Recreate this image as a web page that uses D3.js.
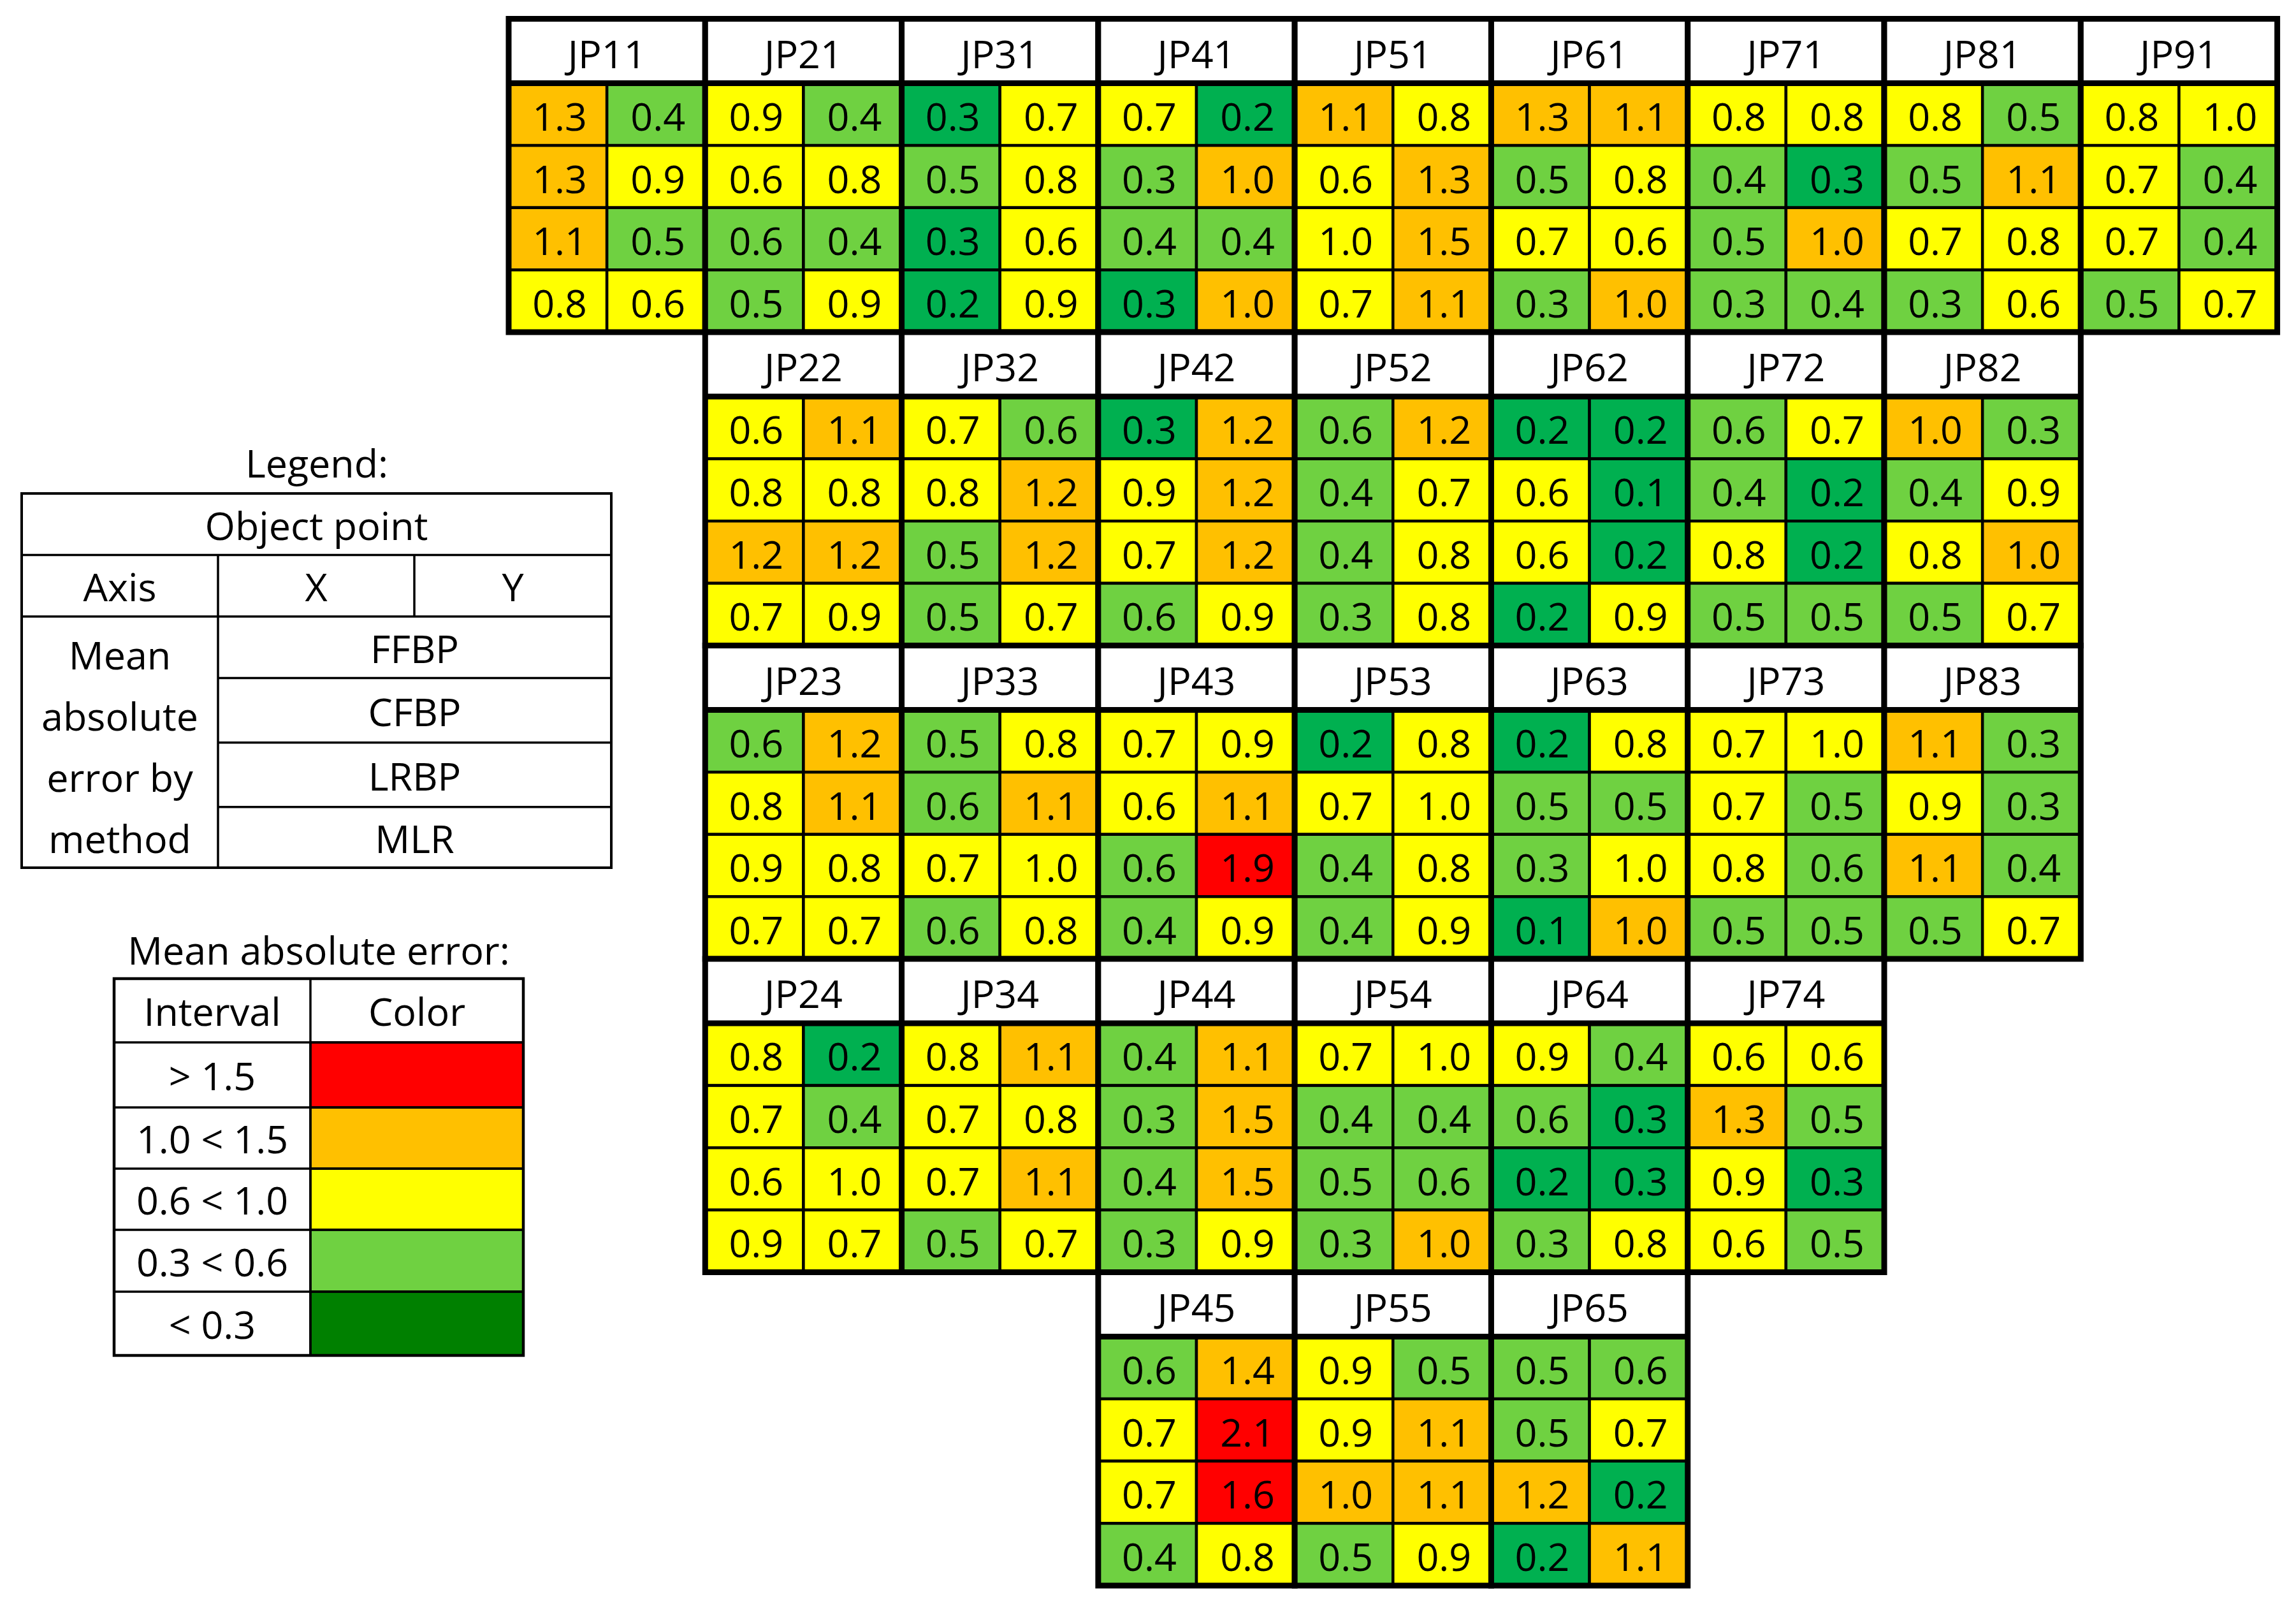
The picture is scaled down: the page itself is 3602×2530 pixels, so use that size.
<!DOCTYPE html>
<html>
<head>
<meta charset="utf-8">
<script src="https://cdn.jsdelivr.net/npm/d3@7"></script>
<style>
  body { margin: 0; background: #fff; }
  text { font-family: "Open Sans", Lato, sans-serif; fill: #000; }
</style>
</head>
<body>
<script>
// object points, in the order they are laid out (JP<column><row>)
var pointNames = ["JP11","JP21","JP31","JP41","JP51","JP61","JP71","JP81","JP91",
                  "JP22","JP32","JP42","JP52","JP62","JP72","JP82",
                  "JP23","JP33","JP43","JP53","JP63","JP73","JP83",
                  "JP24","JP34","JP44","JP54","JP64","JP74",
                  "JP45","JP55","JP65"];

var methods = ["FFBP", "CFBP", "LRBP", "MLR"];
var axes = ["X", "Y"];

// mean absolute error [X, Y] per point, one list per method
// (second decimal guessed from the cell colour, text shows one decimal)
var ffbp = [[1.3,0.4],[0.9,0.4],[0.28,0.7],[0.7,0.2],[1.1,0.8],[1.3,1.1],[0.8,0.8],[0.8,0.5],[0.8,0.98],
            [0.62,1.1],[0.7,0.58],[0.28,1.2],[0.58,1.2],[0.2,0.2],[0.58,0.7],[1.02,0.32],
            [0.58,1.2],[0.5,0.8],[0.7,0.9],[0.2,0.8],[0.2,0.8],[0.7,0.98],[1.1,0.32],
            [0.8,0.2],[0.8,1.1],[0.4,1.1],[0.7,0.98],[0.9,0.4],[0.62,0.62],
            [0.58,1.4],[0.9,0.5],[0.5,0.58]];
var cfbp = [[1.3,0.9],[0.62,0.8],[0.5,0.8],[0.32,1.02],[0.62,1.3],[0.5,0.8],[0.4,0.28],[0.5,1.1],[0.7,0.4],
            [0.8,0.8],[0.8,1.2],[0.9,1.2],[0.4,0.7],[0.62,0.1],[0.4,0.2],[0.4,0.9],
            [0.8,1.1],[0.58,1.1],[0.62,1.1],[0.7,0.98],[0.5,0.5],[0.7,0.5],[0.9,0.32],
            [0.7,0.4],[0.7,0.8],[0.32,1.48],[0.4,0.4],[0.58,0.28],[1.3,0.5],
            [0.7,2.1],[0.9,1.1],[0.5,0.7]];
var lrbp = [[1.1,0.5],[0.58,0.4],[0.28,0.62],[0.4,0.4],[0.98,1.48],[0.7,0.62],[0.5,1.02],[0.7,0.8],[0.7,0.4],
            [1.2,1.2],[0.5,1.2],[0.7,1.2],[0.4,0.8],[0.62,0.2],[0.8,0.2],[0.8,1.02],
            [0.9,0.8],[0.7,0.98],[0.58,1.9],[0.4,0.8],[0.32,0.98],[0.8,0.58],[1.1,0.4],
            [0.62,0.98],[0.7,1.1],[0.4,1.48],[0.5,0.58],[0.2,0.28],[0.9,0.28],
            [0.7,1.6],[1.02,1.1],[1.2,0.2]];
var mlr  = [[0.8,0.62],[0.5,0.9],[0.2,0.9],[0.28,1.02],[0.7,1.1],[0.32,1.02],[0.32,0.4],[0.32,0.62],[0.5,0.7],
            [0.7,0.9],[0.5,0.7],[0.58,0.9],[0.32,0.8],[0.2,0.9],[0.5,0.5],[0.5,0.7],
            [0.7,0.7],[0.58,0.8],[0.4,0.9],[0.4,0.9],[0.1,1.02],[0.5,0.5],[0.5,0.7],
            [0.9,0.7],[0.5,0.7],[0.32,0.9],[0.32,1.02],[0.32,0.8],[0.62,0.5],
            [0.4,0.8],[0.5,0.9],[0.2,1.1]];

var thresholds = [0.3, 0.6, 1.0, 1.5];
var cellColors = ["#00B050", "#6FD141", "#FFFF00", "#FFC000", "#FF0000"];

// legend content
var intervalLabels = ["> 1.5", "1.0 < 1.5", "0.6 < 1.0", "0.3 < 0.6", "< 0.3"];
var intervalColors = ["#FF0000", "#FFC000", "#FFFF00", "#6FD141", "#008000"];
var methodLabelLines = ["Mean", "absolute", "error by", "method"];

var byMethod = {FFBP: ffbp, CFBP: cfbp, LRBP: lrbp, MLR: mlr};
var fs = 61;

var svg = d3.select("body").append("svg")
    .attr("width", 3602)
    .attr("height", 2530);

// ---- main grid ----
var col = d3.scaleBand().domain(d3.range(1, 10)).range([798, 3572.6]);
var row = d3.scaleBand().domain(d3.range(1, 6)).range([29.5, 2487]);
var W = col.bandwidth(), H = row.bandwidth(), hdr = 101;
var xIn = d3.scaleBand().domain(axes).range([0, W]);
var yIn = d3.scaleBand().domain(methods).range([hdr, H]);
var color = d3.scaleThreshold().domain(thresholds).range(cellColors);
var fmt = d3.format(".1f");

var blocks = svg.selectAll("g.block")
    .data(pointNames)
    .enter().append("g")
    .attr("class", "block")
    .attr("transform", function(d) { return "translate(" + col(+d[2]) + "," + row(+d[3]) + ")"; });

blocks.append("rect")
    .attr("width", W).attr("height", hdr)
    .attr("fill", "#fff");

blocks.append("text")
    .attr("x", W / 2).attr("y", hdr / 2)
    .attr("dy", "0.44em")
    .attr("text-anchor", "middle")
    .attr("font-size", fs)
    .text(function(d) { return d; });

blocks.each(function(name, i) {
    var cells = [];
    methods.forEach(function(m) {
        axes.forEach(function(a, j) {
            cells.push({m: m, a: a, v: byMethod[m][i][j]});
        });
    });
    var g = d3.select(this);
    var c = g.selectAll("g.cell").data(cells).enter().append("g").attr("class", "cell");
    c.append("rect")
        .attr("x", function(d) { return xIn(d.a); })
        .attr("y", function(d) { return yIn(d.m); })
        .attr("width", xIn.bandwidth())
        .attr("height", yIn.bandwidth())
        .attr("fill", function(d) { return color(d.v); })
        .attr("stroke", "#000")
        .attr("stroke-width", 4.5);
    c.append("text")
        .attr("x", function(d) { return xIn(d.a) + xIn.bandwidth() / 2 + 3; })
        .attr("y", function(d) { return yIn(d.m) + yIn.bandwidth() / 2; })
        .attr("dy", "0.42em")
        .attr("text-anchor", "middle")
        .attr("font-size", fs)
        .text(function(d) { return fmt(d.v); });
});

// thick block outlines + header separator
blocks.append("line")
    .attr("x1", 0).attr("x2", W).attr("y1", hdr).attr("y2", hdr)
    .attr("stroke", "#000").attr("stroke-width", 9);
blocks.append("rect")
    .attr("width", W).attr("height", H)
    .attr("fill", "none")
    .attr("stroke", "#000").attr("stroke-width", 9);

// ---- legend 1: layout key ----
var L1 = {x: [34, 342, 650, 959], y: [774, 870.6, 967, 1063.6, 1164.7, 1265.8, 1361]};
var leg1 = svg.append("g");

leg1.append("text").attr("x", 497).attr("y", 749)
    .attr("text-anchor", "middle").attr("font-size", fs).text("Legend:");

leg1.append("text").attr("x", (L1.x[0] + L1.x[3]) / 2).attr("y", (L1.y[0] + L1.y[1]) / 2)
    .attr("dy", "0.40em").attr("text-anchor", "middle").attr("font-size", fs).text("Object point");

leg1.selectAll("text.axis").data(["Axis"].concat(axes)).enter().append("text")
    .attr("x", function(d, i) { return (L1.x[i] + L1.x[i + 1]) / 2; })
    .attr("y", (L1.y[1] + L1.y[2]) / 2)
    .attr("dy", "0.40em").attr("text-anchor", "middle").attr("font-size", fs)
    .text(function(d) { return d; });

leg1.selectAll("text.meth").data(methods).enter().append("text")
    .attr("x", (L1.x[1] + L1.x[3]) / 2)
    .attr("y", function(d, i) { return (L1.y[i + 2] + L1.y[i + 3]) / 2; })
    .attr("dy", "0.40em").attr("text-anchor", "middle").attr("font-size", fs)
    .text(function(d) { return d; });

leg1.selectAll("text.lbl").data(methodLabelLines).enter().append("text")
    .attr("x", (L1.x[0] + L1.x[1]) / 2)
    .attr("y", function(d, i) { return 1050 + i * 96; })
    .attr("text-anchor", "middle").attr("font-size", fs)
    .text(function(d) { return d; });

var l1lines = [
    [L1.x[0], L1.y[1], L1.x[3], L1.y[1]],
    [L1.x[0], L1.y[2], L1.x[3], L1.y[2]],
    [L1.x[1], L1.y[3], L1.x[3], L1.y[3]],
    [L1.x[1], L1.y[4], L1.x[3], L1.y[4]],
    [L1.x[1], L1.y[5], L1.x[3], L1.y[5]],
    [L1.x[1], L1.y[1], L1.x[1], L1.y[6]],
    [L1.x[2], L1.y[1], L1.x[2], L1.y[2]]
];
leg1.selectAll("line").data(l1lines).enter().append("line")
    .attr("x1", function(d) { return d[0]; }).attr("y1", function(d) { return d[1]; })
    .attr("x2", function(d) { return d[2]; }).attr("y2", function(d) { return d[3]; })
    .attr("stroke", "#000").attr("stroke-width", 3.5);
leg1.append("rect")
    .attr("x", L1.x[0]).attr("y", L1.y[0])
    .attr("width", L1.x[3] - L1.x[0]).attr("height", L1.y[6] - L1.y[0])
    .attr("fill", "none").attr("stroke", "#000").attr("stroke-width", 4);

// ---- legend 2: colour key ----
var L2 = {x: [179, 487, 821], y: [1535, 1635, 1737, 1833, 1929, 2026, 2126]};
var leg2 = svg.append("g");

leg2.append("text").attr("x", 500).attr("y", 1513)
    .attr("text-anchor", "middle").attr("font-size", fs).text("Mean absolute error:");

leg2.selectAll("rect.sw").data(intervalColors).enter().append("rect")
    .attr("x", L2.x[1])
    .attr("y", function(d, i) { return L2.y[i + 1]; })
    .attr("width", L2.x[2] - L2.x[1])
    .attr("height", function(d, i) { return L2.y[i + 2] - L2.y[i + 1]; })
    .attr("fill", function(d) { return d; })
    .attr("stroke", "#000").attr("stroke-width", 3.5);

leg2.selectAll("text.hd").data(["Interval", "Color"]).enter().append("text")
    .attr("x", function(d, i) { return (L2.x[i] + L2.x[i + 1]) / 2; })
    .attr("y", (L2.y[0] + L2.y[1]) / 2)
    .attr("dy", "0.40em").attr("text-anchor", "middle").attr("font-size", fs)
    .text(function(d) { return d; });

leg2.selectAll("text.iv").data(intervalLabels).enter().append("text")
    .attr("x", (L2.x[0] + L2.x[1]) / 2)
    .attr("y", function(d, i) { return (L2.y[i + 1] + L2.y[i + 2]) / 2; })
    .attr("dy", "0.40em").attr("text-anchor", "middle").attr("font-size", fs)
    .text(function(d) { return d; });

var l2lines = L2.y.slice(1, 6).map(function(y) { return [L2.x[0], y, L2.x[2], y]; })
    .concat([[L2.x[1], L2.y[0], L2.x[1], L2.y[6]]]);
leg2.selectAll("line").data(l2lines).enter().append("line")
    .attr("x1", function(d) { return d[0]; }).attr("y1", function(d) { return d[1]; })
    .attr("x2", function(d) { return d[2]; }).attr("y2", function(d) { return d[3]; })
    .attr("stroke", "#000").attr("stroke-width", 3.5);
leg2.append("rect")
    .attr("x", L2.x[0]).attr("y", L2.y[0])
    .attr("width", L2.x[2] - L2.x[0]).attr("height", L2.y[6] - L2.y[0])
    .attr("fill", "none").attr("stroke", "#000").attr("stroke-width", 4.5);
</script>
</body>
</html>
